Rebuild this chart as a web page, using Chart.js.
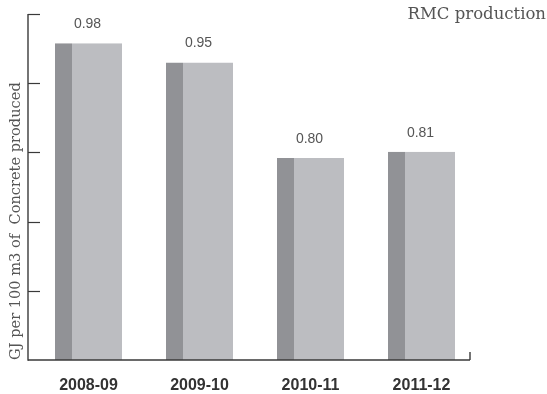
<!DOCTYPE html>
<html>
<head>
<meta charset="utf-8">
<script src="https://cdn.jsdelivr.net/npm/chart.js@4/dist/chart.umd.min.js"></script>
<style>
  html, body { margin: 0; padding: 0; background: #ffffff; }
  #wrap { width: 547px; height: 394px; position: relative; }
</style>
</head>
<body>
<div id="wrap"><canvas id="c" width="547" height="394"></canvas></div>
<script>
// Energy use in ready-mix concrete production, by financial year
const years = ['2008-09', '2009-10', '2010-11', '2011-12'];
const gjPer100m3 = [0.98, 0.95, 0.80, 0.81];

// Unlabelled gridline positions on the value axis
const yTickValues = [0.5916, 0.7002, 0.8088, 0.9174, 1.026];
const yMin = 0.483;
const yMax = 1.026;

const chartTitle = 'RMC production';
const yAxisTitle = 'GJ per 100 m3 of  Concrete produced';

const DARK = '#919296';
const LIGHT = '#bcbdc1';
const INK = '#3a3a3a';
const TEXT = '#555555';

// Axis frame, inward tick marks, value labels and the corner title
const decorations = {
  id: 'decorations',
  afterDatasetsDraw(chart) {
    const ctx = chart.ctx;
    const area = chart.chartArea;
    const y = chart.scales.y;
    const axisX = area.left - 5;
    const axisEnd = area.right - 7;

    ctx.save();
    ctx.strokeStyle = INK;
    ctx.lineWidth = 1.4;

    // value axis line
    ctx.beginPath();
    ctx.moveTo(axisX, y.getPixelForValue(yMax));
    ctx.lineTo(axisX, area.bottom + 0.7);
    ctx.stroke();

    // category axis line with a small end stop
    ctx.beginPath();
    ctx.moveTo(axisX, area.bottom);
    ctx.lineTo(axisEnd, area.bottom);
    ctx.moveTo(axisEnd, area.bottom);
    ctx.lineTo(axisEnd, area.bottom - 8);
    ctx.stroke();

    // inward ticks
    ctx.lineWidth = 1.2;
    y.ticks.forEach(t => {
      const py = Math.round(y.getPixelForValue(t.value)) + 0.5;
      ctx.beginPath();
      ctx.moveTo(axisX, py);
      ctx.lineTo(axisX + 12, py);
      ctx.stroke();
    });

    // value labels above bars
    ctx.fillStyle = TEXT;
    ctx.font = '14px "Liberation Sans", Arial, sans-serif';
    ctx.textAlign = 'center';
    ctx.textBaseline = 'alphabetic';
    const meta = chart.getDatasetMeta(0);
    meta.data.forEach((bar, i) => {
      ctx.fillText(gjPer100m3[i].toFixed(2), bar.x - 1, bar.y - 15);
    });

    // corner title
    ctx.font = '16.5px "DejaVu Serif", serif';
    ctx.textAlign = 'right';
    ctx.textBaseline = 'middle';
    ctx.fillText(chartTitle, 546, 15);
    ctx.restore();
  }
};

new Chart(document.getElementById('c'), {
  type: 'bar',
  data: {
    labels: years,
    datasets: [{
      data: gjPer100m3,
      backgroundColor: LIGHT,
      borderColor: DARK,
      borderWidth: { left: 17, top: 0, right: 0, bottom: 0 },
      borderSkipped: false,
      barPercentage: 0.6036,
      categoryPercentage: 1
    }]
  },
  options: {
    responsive: false,
    animation: false,
    devicePixelRatio: 1,
    layout: { padding: { top: 14, right: 70, left: 0, bottom: 0 } },
    plugins: {
      legend: { display: false },
      tooltip: { enabled: false }
    },
    scales: {
      x: {
        grid: { display: false, drawTicks: false },
        border: { display: false },
        ticks: {
          color: '#333333',
          font: { family: '"Liberation Sans", Arial, sans-serif', size: 16, weight: 'bold' },
          padding: 16,
          maxRotation: 0
        },
        afterFit(scale) { scale.height = 34; }
      },
      y: {
        min: yMin,
        max: yMax,
        grid: { display: false, drawTicks: false },
        border: { display: false },
        ticks: { display: false },
        afterBuildTicks(scale) {
          scale.ticks = yTickValues.map(v => ({ value: v }));
        },
        title: {
          display: true,
          text: yAxisTitle,
          color: TEXT,
          align: 'start',
          font: { family: '"DejaVu Serif", serif', size: 14.6 },
          padding: { top: 7, bottom: 0 }
        },
        afterFit(scale) { scale.width = 33; }
      }
    }
  },
  plugins: [decorations]
});
</script>
</body>
</html>
